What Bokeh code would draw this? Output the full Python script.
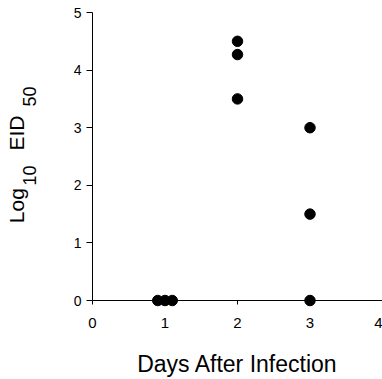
import math
from bokeh.plotting import figure
from bokeh.models import Range1d, FixedTicker, Span
from bokeh.layouts import row
from bokeh.core.properties import value
from bokeh.embed import file_html
from bokeh.resources import INLINE

# data
day1_x = [0.9, 1.0, 1.1]
day1_y = [0.0, 0.0, 0.0]
day2_x = [2.0, 2.0, 2.0]
day2_y = [4.5, 4.27, 3.5]
day3_x = [3.0, 3.0, 3.0]
day3_y = [3.0, 1.5, 0.0]
x_ticks = [0, 1, 2, 3, 4]
y_ticks = [0, 1, 2, 3, 4, 5]
x_title = "Days After Infection"
y_title_parts = ["Log", "10", "EID", "50"]

FONT = "Liberation Sans"
TOP, BOTTOM = 12, 65

# ---- main plot ----
p = figure(width=332, height=379, output_backend="svg", toolbar_location=None,
           x_range=Range1d(0, 4), y_range=Range1d(-0.243, 5),
           min_border_left=42, min_border_right=0, min_border_top=TOP, min_border_bottom=BOTTOM)
p.outline_line_color = None
p.xgrid.visible = False
p.ygrid.visible = False
p.background_fill_color = "white"
p.border_fill_color = "white"

xs = day1_x + day2_x + day3_x
ys = day1_y + day2_y + day3_y
p.scatter(xs, ys, size=10.5, color="black")

# x axis line at y = 0
p.add_layout(Span(location=0, dimension="width", line_color="black", line_width=1))

xa = p.xaxis[0]
xa.ticker = FixedTicker(ticks=x_ticks)
xa.axis_line_color = None
xa.major_tick_line_color = "black"
xa.major_tick_in = 14
xa.major_tick_out = -10
xa.minor_tick_line_color = None
xa.major_label_text_font = FONT
xa.major_label_text_font_size = "15px"
xa.major_label_text_color = "black"
xa.major_label_standoff = 3
xa.axis_label = x_title
xa.axis_label_text_font = FONT
xa.axis_label_text_font_size = "23px"
xa.axis_label_text_font_style = "normal"
xa.axis_label_text_color = "black"
xa.axis_label_standoff = 20

ya = p.yaxis[0]
ya.bounds = (0, 5)
ya.ticker = FixedTicker(ticks=y_ticks)
ya.axis_line_color = "black"
ya.major_tick_line_color = "black"
ya.major_tick_out = 6
ya.major_tick_in = 0
ya.minor_tick_line_color = None
ya.major_label_text_font = FONT
ya.major_label_text_font_size = "14px"
ya.major_label_text_color = "black"
ya.major_label_standoff = 5

# ---- left strip holding the rotated y-axis title with subscripts ----
t = figure(width=50, height=379, output_backend="svg", toolbar_location=None,
           x_range=Range1d(0, 50), y_range=Range1d(BOTTOM, 379 - TOP),
           min_border_left=0, min_border_right=0, min_border_top=TOP, min_border_bottom=BOTTOM)
t.axis.visible = False
t.grid.visible = False
t.outline_line_color = None
t.background_fill_color = "white"
t.border_fill_color = "white"

# (baseline x, start y from top, font size) in pixels for each part
pos = [(16, 222.7, "21px"), (28.5, 185, "18px"), (16, 150, "21px"), (29, 106, "18px")]
for txt, (bx, sy, fs) in zip(y_title_parts, pos):
    t.text(x=[bx], y=[379 - sy], text=[txt], angle=math.pi / 2,
           text_font=value(FONT), text_font_size=fs, text_color="black",
           text_align="left", text_baseline="alphabetic")

layout = row(t, p, spacing=0)
open("out.html", "w").write(file_html(layout, INLINE))
